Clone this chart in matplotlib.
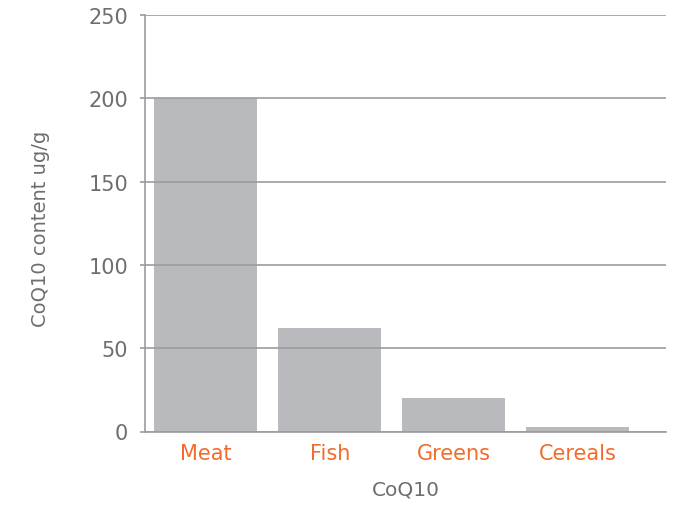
import matplotlib
matplotlib.use("Agg")
import matplotlib.pyplot as plt

categories = ["Meat", "Fish", "Greens", "Cereals"]
coq10 = [200, 62, 20, 3]
yticks = [0, 50, 100, 150, 200, 250]

grey_text = "#6d6e71"
line_col = "#9b9ca0"
bar_col = "#b9babe"
orange = "#f26b2a"

plt.rcParams['font.family'] = ['DejaVu Sans']

fig = plt.figure(figsize=(6.91, 5.06), dpi=100)
ax = fig.add_axes([145 / 691, 1 - 432.5 / 506, (666 - 145) / 691, 416.5 / 506])

x = range(len(categories))
ax.bar(x, coq10, width=0.83, color=bar_col, zorder=1)

ax.set_ylim(0, 250)
ax.set_xlim(-0.49, 3.71)
ax.set_yticks(yticks)
ax.yaxis.grid(True, color=line_col, linewidth=1.2, zorder=3)
ax.set_axisbelow(False)

ax.set_xticks(list(x))
ax.set_xticklabels(categories, color=orange, fontsize=15)
ax.tick_params(axis='x', length=0, pad=8)
ax.tick_params(axis='y', colors=line_col, labelcolor=grey_text, labelsize=15,
               length=3.6, width=1.2, pad=8.6)

for s in ['top', 'right']:
    ax.spines[s].set_visible(False)
for s in ['left', 'bottom']:
    ax.spines[s].set_color(line_col)
    ax.spines[s].set_linewidth(1.2)
    ax.spines[s].set_zorder(4)

ax.set_ylabel("CoQ10 content ug/g", color=grey_text, fontsize=14)
ax.yaxis.set_label_coords(-0.183, 0.49)
ax.set_xlabel("CoQ10", color=grey_text, fontsize=14.5, labelpad=12)

fig.savefig("out.png", dpi=100)
